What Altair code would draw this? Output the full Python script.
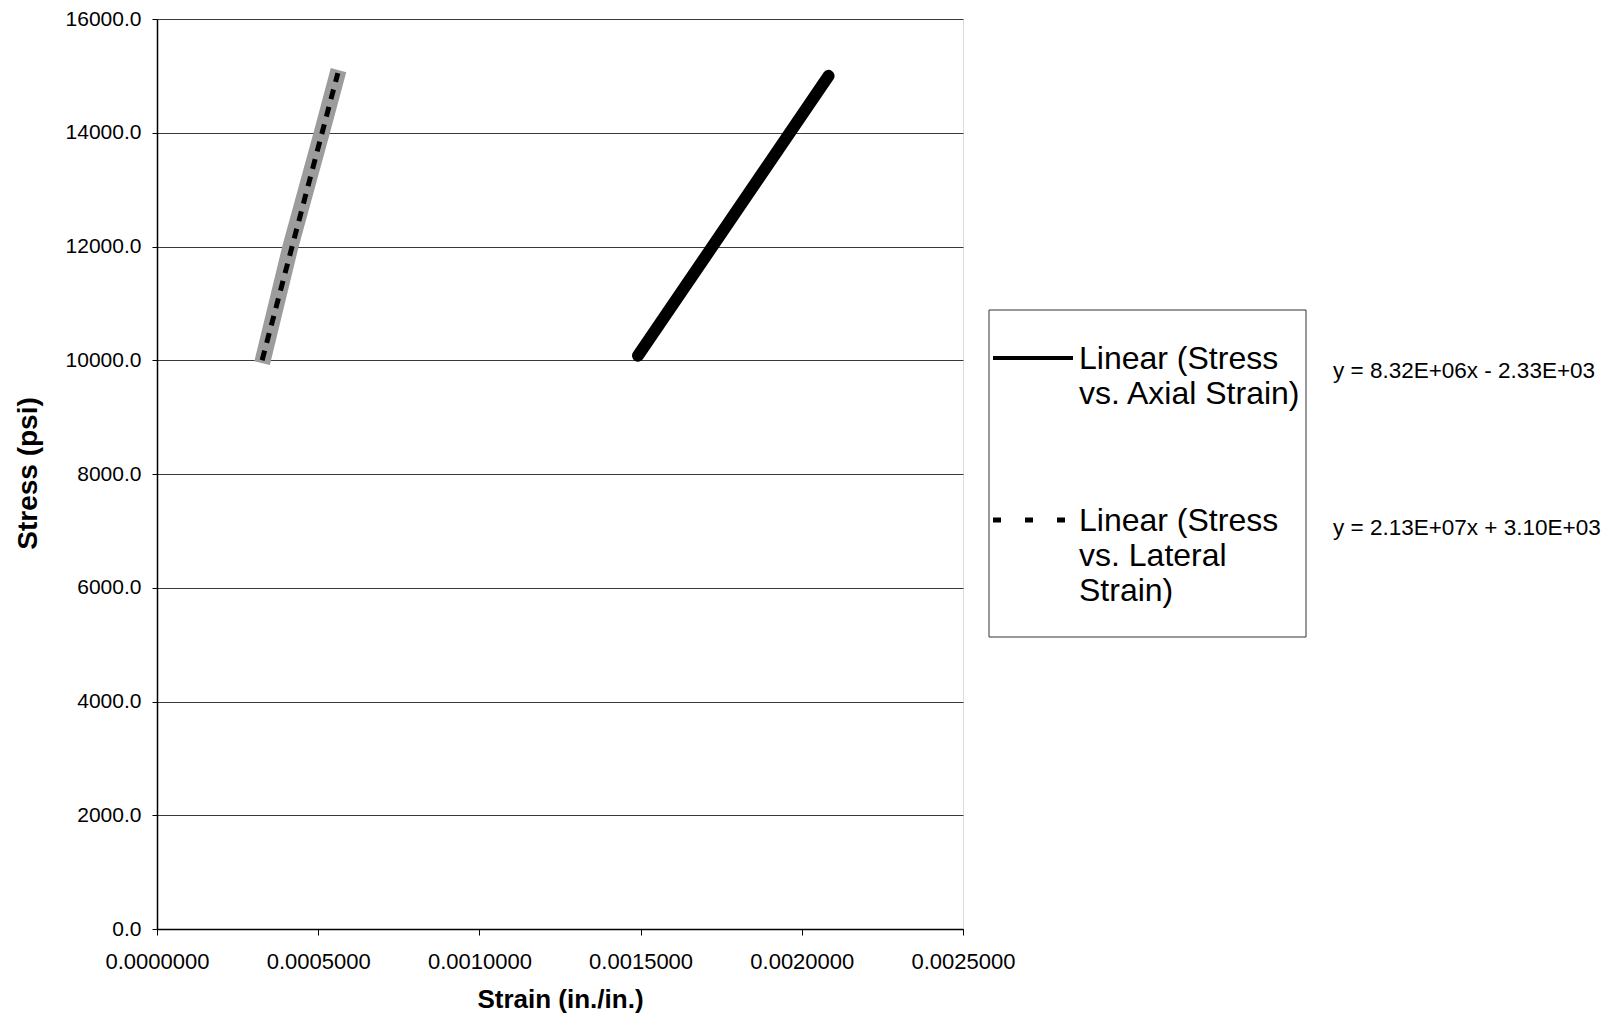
import altair as alt
import pandas as pd

# ---- data ----
x_ticks = [0.0, 0.0005, 0.0010, 0.0015, 0.0020, 0.0025]
y_ticks = [0, 2000, 4000, 6000, 8000, 10000, 12000, 14000, 16000]

axial_strain = [0.001492, 0.002083]
axial_stress = [10080, 15000]

lateral_strain = [0.000326, 0.000414, 0.000511, 0.000563]
lateral_stress = [9950, 12000, 14000, 15100]

lateral_fit_strain = [0.000326, 0.000561]
lateral_fit_stress = [10000, 15050]

legend_labels = [["Linear (Stress", "vs. Axial Strain)"],
                 ["Linear (Stress", "vs. Lateral", "Strain)"]]
equations = ["y = 8.32E+06x - 2.33E+03", "y = 2.13E+07x + 3.10E+03"]

FONT = "Liberation Sans"

axial_df = pd.DataFrame({"strain": axial_strain, "stress": axial_stress})
lat_df = pd.DataFrame({"strain": lateral_strain, "stress": lateral_stress})
latfit_df = pd.DataFrame({"strain": lateral_fit_strain, "stress": lateral_fit_stress})
one = pd.DataFrame({"a": [0]})

xscale = alt.Scale(domain=[0, 0.0025], nice=False, zero=False)
yscale = alt.Scale(domain=[0, 16000], nice=False)

xaxis = alt.Axis(values=x_ticks, format=".7f", grid=False, tickSize=6,
                 labelPadding=16, labelFontSize=22, labelFont=FONT,
                 labelColor="black", labelFlush=False, labelOverlap=False,
                 title="Strain (in./in.)", titleFontSize=26, titleFont=FONT,
                 titleFontWeight="bold", titleColor="black", titleY=70,
                 titleBaseline="middle", domainColor="black", domainWidth=1.5,
                 tickColor="black")
yaxis = alt.Axis(values=y_ticks, format=".1f", grid=True, gridColor="#3a3a3a",
                 gridWidth=1, tickSize=5, labelPadding=11, labelFontSize=21,
                 labelFont=FONT, labelColor="black", labelOverlap=False,
                 title="Stress (psi)", titleFontSize=28, titleFont=FONT,
                 titleFontWeight="bold", titleColor="black", titleX=-129,
                 titleY=454, titleBaseline="middle", titleAlign="center",
                 domainColor="black", domainWidth=1.5, tickColor="black")

def enc(ch):
    return ch.encode(
        x=alt.X("strain:Q", scale=xscale, axis=xaxis),
        y=alt.Y("stress:Q", scale=yscale, axis=yaxis),
    )

lat_band = enc(alt.Chart(lat_df).mark_line(color="#9c9c9c", strokeWidth=16,
                                           strokeCap="butt"))
lat_fit = enc(alt.Chart(latfit_df).mark_line(color="black", strokeWidth=5,
                                             strokeDash=[10, 8]))
axial = enc(alt.Chart(axial_df).mark_line(color="black", strokeWidth=12,
                                          strokeCap="round"))

# ---- legend box (drawn manually) ----
box = alt.Chart(one).mark_rect(fill="white", stroke="#333333", strokeWidth=1).encode(
    x=alt.value(832), x2=alt.value(1149), y=alt.value(291), y2=alt.value(618))
sym1 = alt.Chart(one).mark_rule(color="black", strokeWidth=4).encode(
    x=alt.value(836), x2=alt.value(916), y=alt.value(339))
sym2 = alt.Chart(one).mark_rule(color="black", strokeWidth=5,
                                strokeDash=[8, 24]).encode(
    x=alt.value(836), x2=alt.value(916), y=alt.value(501))
lab1 = alt.Chart(one).mark_text(align="left", baseline="top", fontSize=32,
                                font=FONT, lineHeight=35, color="black").encode(
    x=alt.value(922), y=alt.value(325), text=alt.value(legend_labels[0]))
lab2 = alt.Chart(one).mark_text(align="left", baseline="top", fontSize=32,
                                font=FONT, lineHeight=35, color="black").encode(
    x=alt.value(922), y=alt.value(487), text=alt.value(legend_labels[1]))
eq1 = alt.Chart(one).mark_text(align="left", baseline="middle", fontSize=22.5,
                               font=FONT, color="black").encode(
    x=alt.value(1176), y=alt.value(352), text=alt.value(equations[0]))
eq2 = alt.Chart(one).mark_text(align="left", baseline="middle", fontSize=22.5,
                               font=FONT, color="black").encode(
    x=alt.value(1176), y=alt.value(509), text=alt.value(equations[1]))

chart = alt.layer(lat_band, lat_fit, axial, box, sym1, sym2, lab1, lab2, eq1, eq2).properties(
    width=806, height=910,
    autosize=alt.AutoSizeParams(type="none"),
    padding={"left": 149, "top": 11, "right": 638, "bottom": 86},
).configure_view(stroke="#888888").configure(background="white")

chart.save("out.html", embed_options={"renderer": "svg", "actions": False})
